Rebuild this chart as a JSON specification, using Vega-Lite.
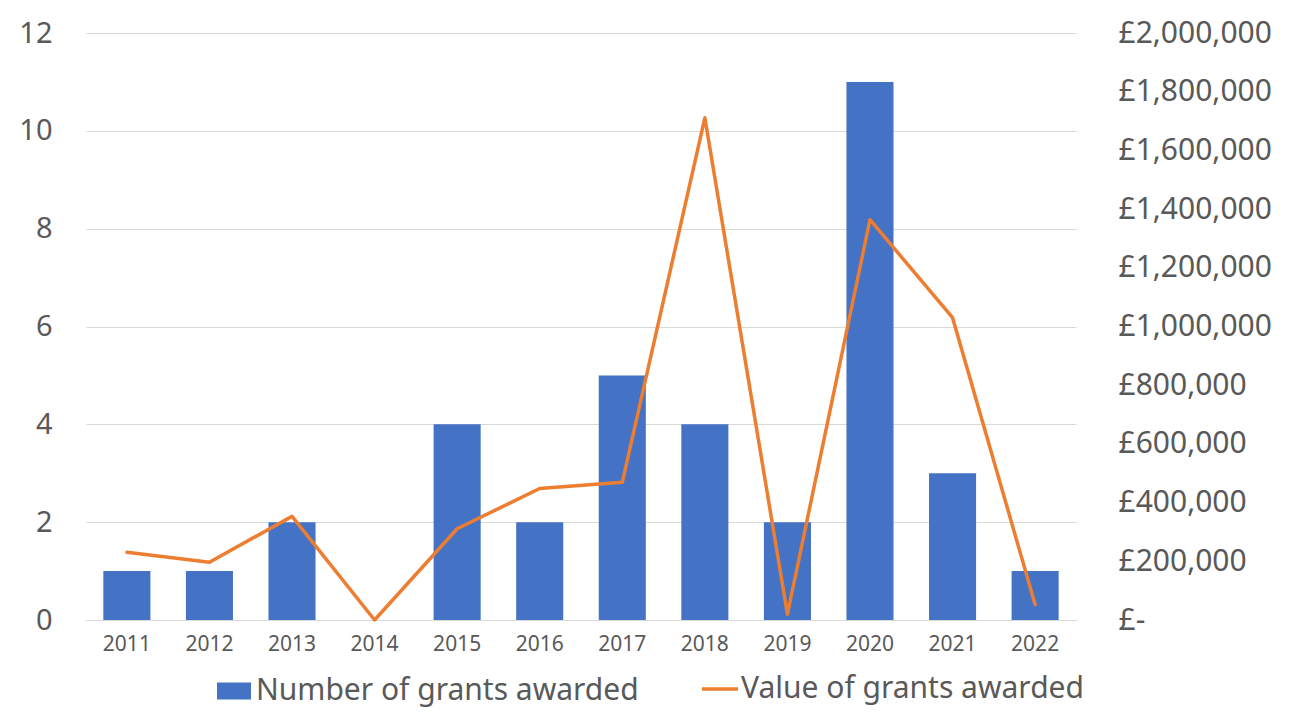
{
  "$schema": "https://vega.github.io/schema/vega-lite/v6.json",
  "width": 990,
  "height": 587,
  "autosize": "none",
  "padding": {"left": 86, "top": 33, "right": 219, "bottom": 99},
  "background": "white",
  "config": {
    "view": {"stroke": null},
    "font": "Noto Sans",
    "axis": {"labelFont": "Noto Sans", "labelColor": "#595959", "ticks": false, "domain": false}
  },
  "data": {
    "values": [
      {"year": "2011", "count": 1, "value": 231000},
      {"year": "2012", "count": 1, "value": 197000},
      {"year": "2013", "count": 2, "value": 353000},
      {"year": "2014", "count": 0, "value": 0},
      {"year": "2015", "count": 4, "value": 311000},
      {"year": "2016", "count": 2, "value": 448000},
      {"year": "2017", "count": 5, "value": 469000},
      {"year": "2018", "count": 4, "value": 1711000},
      {"year": "2019", "count": 2, "value": 20000},
      {"year": "2020", "count": 11, "value": 1364000},
      {"year": "2021", "count": 3, "value": 1030000},
      {"year": "2022", "count": 1, "value": 53000}
    ]
  },
  "encoding": {
    "x": {
      "field": "year",
      "type": "ordinal",
      "scale": {"paddingInner": 0.43, "paddingOuter": 0.21},
      "axis": {"title": null, "labelAngle": 0, "labelFontSize": 21, "labelPadding": 13, "domain": true, "domainColor": "#D9D9D9"}
    }
  },
  "layer": [
    {
      "mark": {"type": "bar"},
      "encoding": {
        "y": {
          "field": "count",
          "type": "quantitative",
          "scale": {"domain": [0, 12], "nice": false},
          "axis": {"title": null, "values": [0, 2, 4, 6, 8, 10, 12], "labelFontSize": 29, "labelPadding": 34, "grid": true, "gridColor": "#D9D9D9", "gridWidth": 1}
        },
        "fill": {
          "datum": "Number of grants awarded",
          "scale": {"range": ["#4472C4"]},
          "legend": {
            "title": null,
            "orient": "none",
            "legendX": 131,
            "legendY": 641,
            "symbolType": "M-1,-0.5H1V0.5H-1Z",
            "symbolSize": 1156,
            "symbolStrokeWidth": 0,
            "labelFontSize": 30,
            "labelColor": "#595959",
            "labelOffset": 5,
            "labelLimit": 0
          }
        }
      }
    },
    {
      "mark": {"type": "line", "strokeWidth": 3.5, "strokeCap": "round", "strokeJoin": "round"},
      "encoding": {
        "y": {
          "field": "value",
          "type": "quantitative",
          "scale": {"domain": [0, 2000000], "nice": false},
          "axis": {
            "title": null,
            "orient": "right",
            "values": [0, 200000, 400000, 600000, 800000, 1000000, 1200000, 1400000, 1600000, 1800000, 2000000],
            "labelExpr": "datum.value == 0 ? '£-' : '£' + format(datum.value, ',')",
            "labelFontSize": 30,
            "labelPadding": 42,
            "grid": false
          }
        },
        "stroke": {
          "datum": "Value of grants awarded",
          "scale": {"range": ["#ED7D31"]},
          "legend": {
            "title": null,
            "orient": "none",
            "legendX": 614,
            "legendY": 636,
            "symbolType": "stroke",
            "symbolSize": 1296,
            "symbolStrokeWidth": 3.5,
            "labelFontSize": 30,
            "labelColor": "#595959",
            "labelOffset": 1,
            "labelLimit": 0
          }
        }
      }
    }
  ],
  "resolve": {"scale": {"y": "independent", "fill": "independent", "stroke": "independent"}}
}
